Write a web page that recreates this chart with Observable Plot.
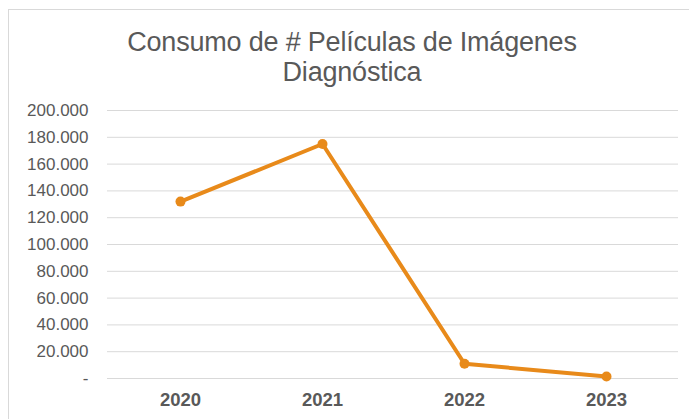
<!DOCTYPE html>
<html>
<head>
<meta charset="utf-8">
<script src="https://cdn.jsdelivr.net/npm/d3@7"></script>
<script src="https://cdn.jsdelivr.net/npm/@observablehq/plot@0.6"></script>
<style>
  html, body { margin: 0; padding: 0; background: #fff; }
  body { width: 689px; height: 419px; position: relative; overflow: hidden; font-family: "Liberation Sans", Arial, sans-serif; }
  #frame { position: absolute; left: 8px; top: 9px; width: 700px; height: 430px; border-left: 1px solid #d9d9d9; border-top: 1px solid #d9d9d9; box-sizing: border-box; }
  #title { position: absolute; left: 0; top: 27px; width: 704px; text-align: center; font-size: 27px; line-height: 30px; color: #595959; letter-spacing: -0.2px; }
  #chart { position: absolute; left: 0; top: 95px; }
</style>
</head>
<body>
<div id="frame"></div>
<div id="title">Consumo de # Películas de Imágenes<br>Diagnóstica</div>
<div id="chart"></div>
<script>
const years = ["2020", "2021", "2022", "2023"];
const consumo = [132000, 175000, 11000, 1500];
const yTicks = [0, 20000, 40000, 60000, 80000, 100000, 120000, 140000, 160000, 180000, 200000];

const data = years.map((y, i) => ({year: y, value: consumo[i]}));
const fmt = d => d === 0 ? "-" : d3.format(",")(d).replace(/,/g, ".");

const chart = Plot.plot({
  width: 689,
  height: 324,
  marginLeft: 107,
  marginRight: 11,
  marginTop: 15,
  marginBottom: 41,
  style: {fontFamily: "Liberation Sans, Arial, sans-serif", background: "transparent"},
  x: {type: "point", domain: years, padding: 0.5},
  y: {domain: [0, 200000]},
  marks: [
    Plot.ruleY(yTicks, {stroke: "#d9d9d9", strokeWidth: 1}),
    Plot.axisY(yTicks, {tickSize: 0, tickPadding: 19, tickFormat: fmt, fontSize: 17, fill: "#595959", label: null}),
    Plot.axisX({tickSize: 0, tickPadding: 14, fontSize: 18.5, fontWeight: "bold", fill: "#595959", label: null}),
    Plot.line(data, {x: "year", y: "value", stroke: "#E88A1A", strokeWidth: 4, strokeLinejoin: "round"}),
    Plot.dot(data, {x: "year", y: "value", fill: "#E88A1A", r: 5, stroke: null})
  ]
});
document.getElementById("chart").appendChild(chart);
</script>
</body>
</html>
